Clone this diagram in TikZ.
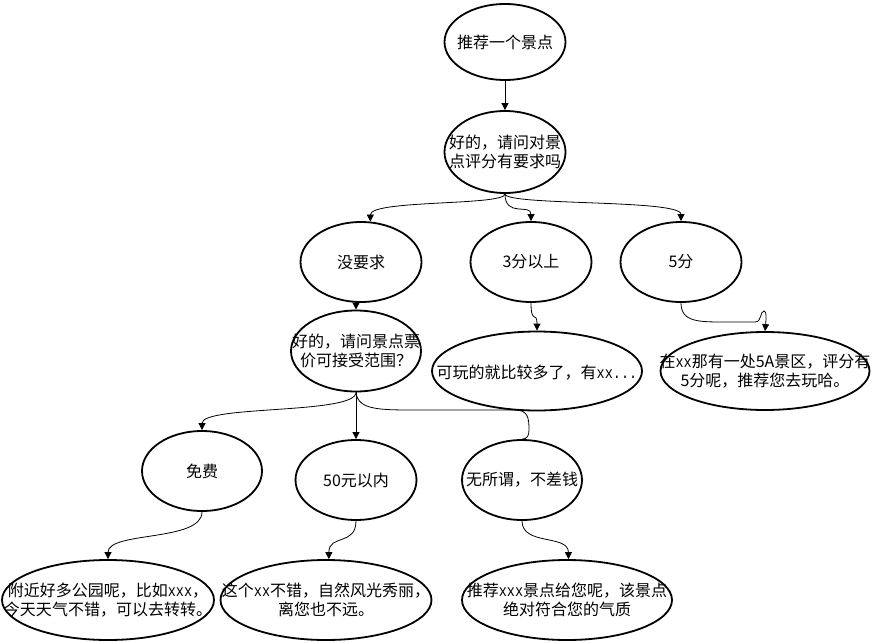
\documentclass[tikz,border=0pt]{standalone}
\usepackage{fontspec}
\usepackage{graphicx}
\setmainfont{Noto Sans CJK SC}
\newfontfamily\latmono{Liberation Mono}
\newcommand{\lm}[1]{\scalebox{0.82}[1]{\latmono\fontsize{16.5}{19.5}\selectfont #1}}
\usetikzlibrary{shapes.geometric,arrows.meta}
\begin{document}
\begin{tikzpicture}[x=1pt,y=-1pt,
  ell/.style={draw=black,line width=1.8pt,fill=white,ellipse,inner sep=0pt},
  txt/.style={align=center,font=\fontsize{16}{19.5}\selectfont,inner sep=0pt},
  conn/.style={draw=black,line width=0.8pt,-{Triangle[length=7pt,width=7pt]}},
  plain/.style={draw=black,line width=0.8pt}]
\useasboundingbox[fill=white] (0,0) rectangle (872,642);
% ellipses
\node[ell,minimum width=121pt,minimum height=76pt] (a) at (505,42) {};
\node[ell,minimum width=121pt,minimum height=82pt] (b) at (505,152) {};
\node[ell,minimum width=121pt,minimum height=80pt] (n1) at (361,262) {};
\node[ell,minimum width=121pt,minimum height=80pt] (n2) at (531,262) {};
\node[ell,minimum width=121pt,minimum height=80pt] (n3) at (681,262) {};
\node[ell,minimum width=130pt,minimum height=81pt] (p) at (356,351) {};
\node[ell,minimum width=210pt,minimum height=79pt] (q) at (537,371) {};
\node[ell,minimum width=209pt,minimum height=78pt] (r) at (765,371) {};
\node[ell,minimum width=120pt,minimum height=80pt] (f) at (202,471) {};
\node[ell,minimum width=121pt,minimum height=80pt] (g) at (356,480) {};
\node[ell,minimum width=120pt,minimum height=80pt] (h) at (522,480) {};
\node[ell,minimum width=212pt,minimum height=80pt] (u) at (108,600) {};
\node[ell,minimum width=211pt,minimum height=80pt] (v) at (326,600) {};
\node[ell,minimum width=210pt,minimum height=80pt] (w) at (567,600) {};
% texts
\node[txt] at (a) {推荐一个景点};
\node[txt] at (b) {好的，请问对景\\点评分有要求吗};
\node[txt] at (n1) {没要求};
\node[txt] at (n2) {3分以上};
\node[txt] at (n3) {5分};
\node[txt] at (p) {好的，请问景点票\\价可接受范围？};
\node[txt] at ([yshift=-2pt]q.center) {可玩的就比较多了，有\lm{xx...}};
\node[txt] at (r) {在\lm{xx}那有一处5A景区，评分有\\5分呢，推荐您去玩哈。};
\node[txt] at (f) {免费};
\node[txt] at (g) {50元以内};
\node[txt] at (h) {无所谓，不差钱};
\node[txt] at (u) {附近好多公园呢，比如\lm{xxx}，\\今天天气不错，可以去转转。};
\node[txt] at (v) {这个\lm{xx}不错，自然风光秀丽，\\离您也不远。};
\node[txt] at (w) {推荐\lm{xxx}景点给您呢，该景点\\绝对符合您的气质};
% connectors
\draw[conn] (a.south) -- (b.north);
\draw[conn] (b.south) .. controls +(0,12) and +(0,-22) .. (n1.77);
\draw[conn] (b.south) .. controls +(0,24) and +(0,-18) .. (n2.north);
\draw[conn] (b.south) .. controls +(0,12) and +(0,-22) .. (n3.north);
\draw[conn] (p.north |- n1.south) -- (p.north);
\draw[conn] (n2.south) .. controls +(0,22) and +(0,-20) .. (q.north);
\draw[conn] (n3.south) .. controls +(0,20) and (700,322) .. (730,322) -- (755,322)
  .. controls (762,322) and (760,311) .. (764,311) .. controls (767,311) and (766,320) .. (r.north);
\draw[conn] (p.south) .. controls +(0,22) and +(0,-25) .. (f.north);
\draw[conn] (p.south) -- (g.north);
\draw[plain] (p.south) .. controls +(2,18) and (380,410) .. (420,410) -- (515,410)
  .. controls (528,410) and (529,418) .. (529,430) .. controls (529,436) and (527,439) .. (h.north);
\draw[conn] (f.south) .. controls +(0,30) and +(0,-28) .. (u.north);
\draw[conn] (g.south) .. controls +(0,25) and +(0,-25) .. (v.86);
\draw[conn] (h.south) .. controls +(0,25) and +(0,-25) .. (w.88);
\end{tikzpicture}
\end{document}
